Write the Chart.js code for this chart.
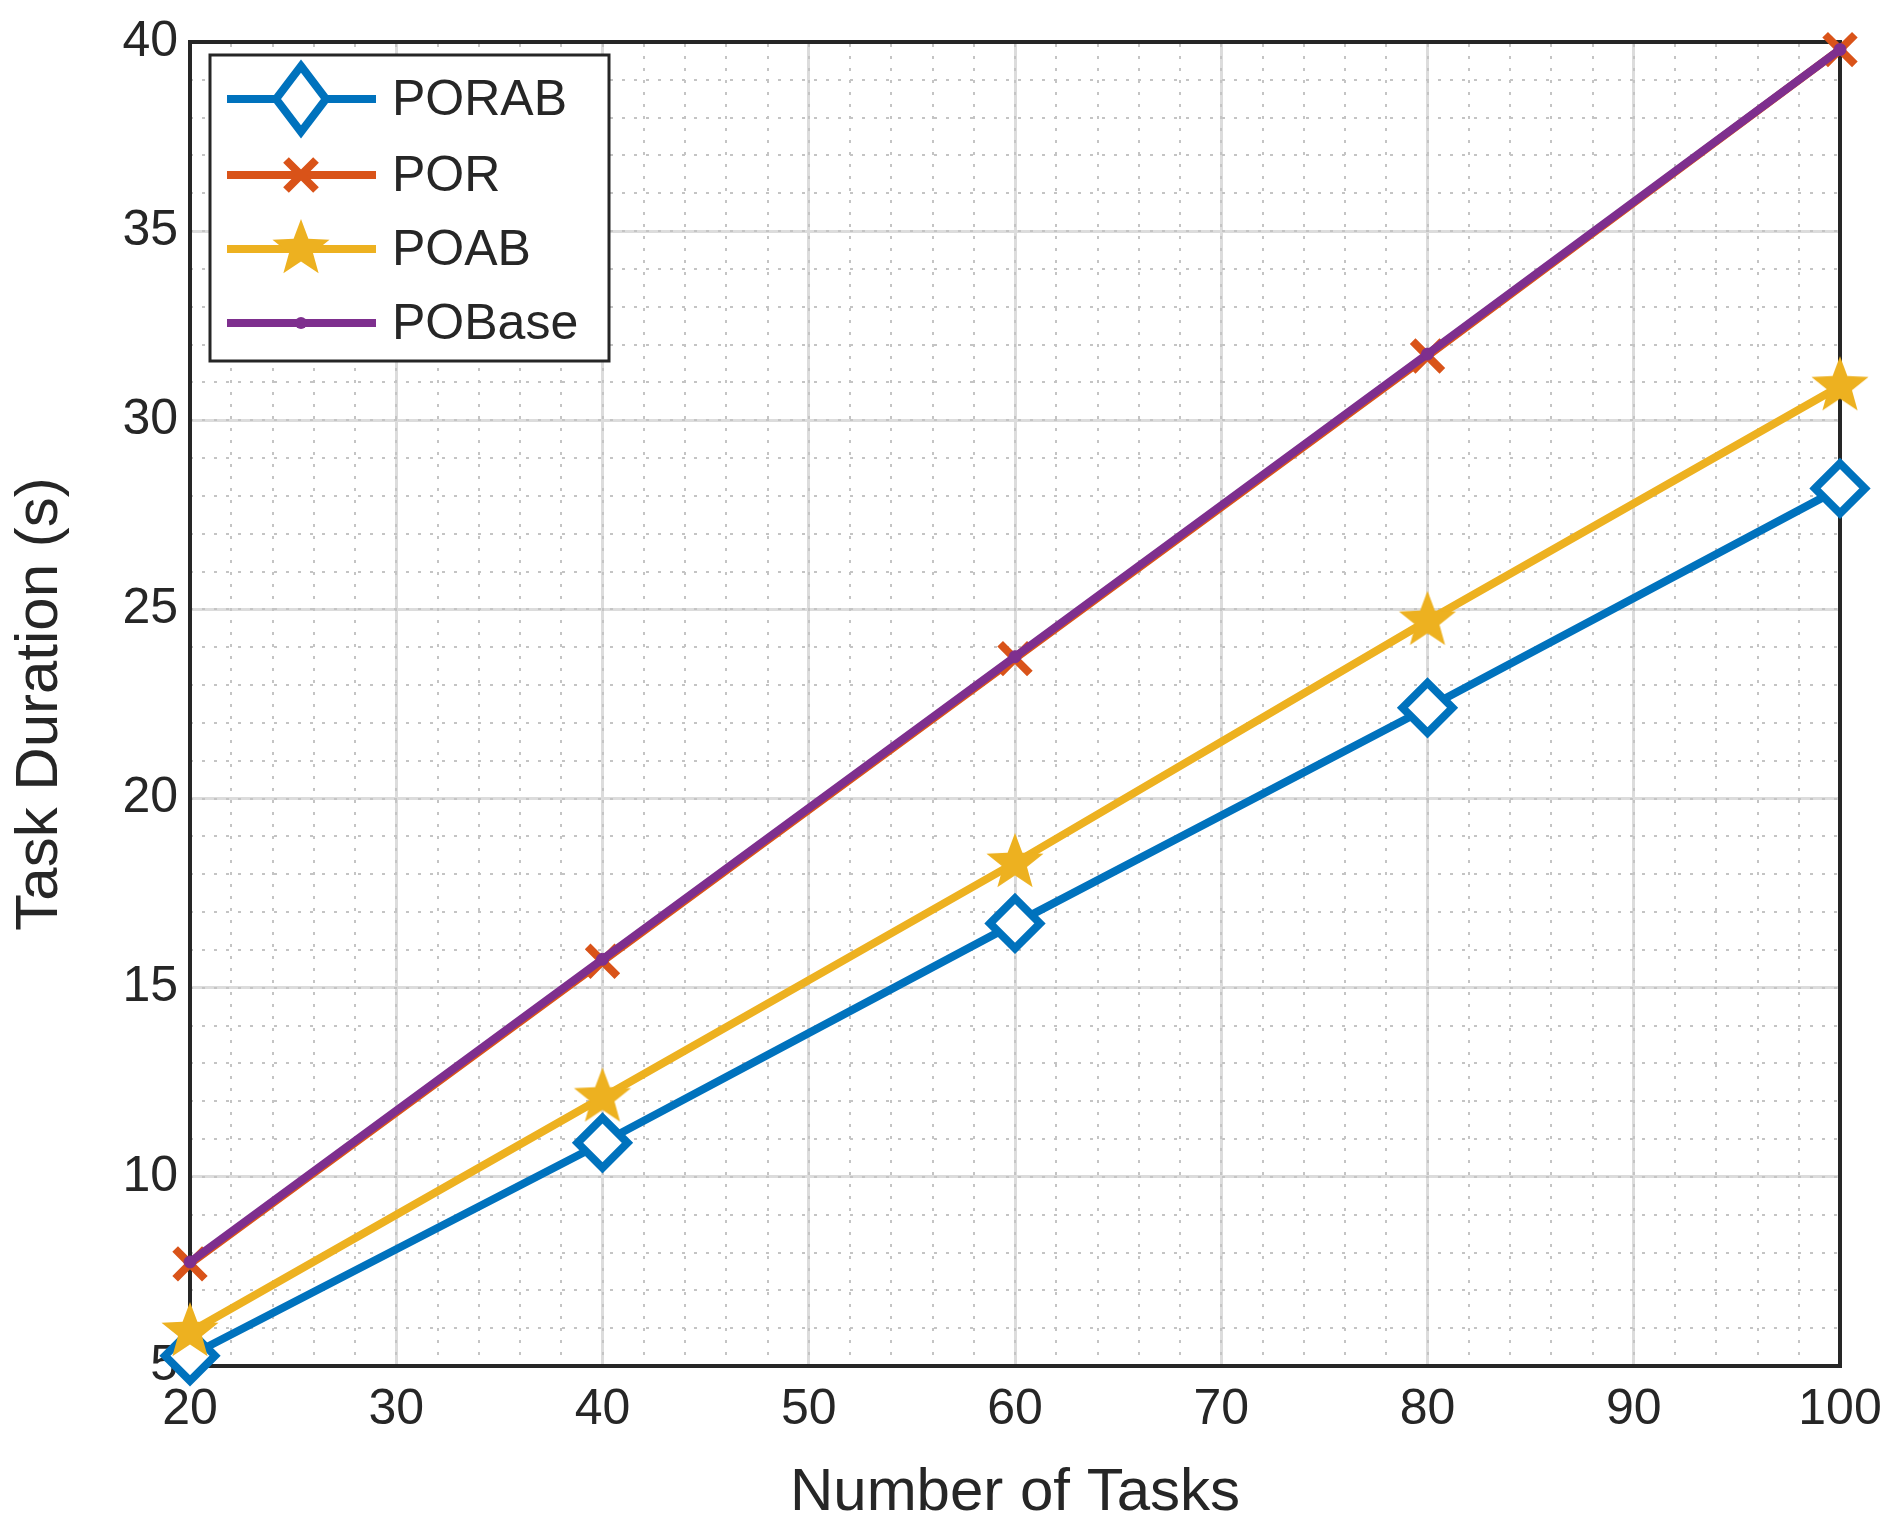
<!DOCTYPE html>
<html>
<head>
<meta charset="utf-8">
<script src="https://cdn.jsdelivr.net/npm/chart.js@4.4.1/dist/chart.umd.min.js"></script>
<style>
  html, body { margin: 0; padding: 0; background: #fff; }
  #wrap { width: 1901px; height: 1533px; }
</style>
</head>
<body>
<div id="wrap"><canvas id="c" width="1901" height="1533"></canvas></div>
<script>
const tasks = [20, 40, 60, 80, 100];
const porab = [5.27, 10.9, 16.7, 22.4, 28.2];
const por = [7.7, 15.7, 23.7, 31.7, 39.8];
const poab = [5.9, 12.1, 18.3, 24.7, 30.9];
const pobase = [7.75, 15.75, 23.75, 31.75, 39.8];
const seriesNames = ["PORAB", "POR", "POAB", "POBase"];

const cBlue = "#0072BD";
const cRed = "#D95319";
const cYellow = "#EDB120";
const cPurple = "#7E2F8E";
const axisColor = "#262626";
const font = "'Liberation Sans', Arial, sans-serif";

// filled star marker
function makeStar(r, color) {
  const cv = document.createElement("canvas");
  cv.width = cv.height = r * 2 + 4;
  const g = cv.getContext("2d");
  g.translate(r + 2, r + 2);
  g.beginPath();
  for (let k = 0; k < 10; k++) {
    const rad = k % 2 === 0 ? r : r * 0.42;
    const a = -Math.PI / 2 + (k * Math.PI) / 5;
    g.lineTo(rad * Math.cos(a), rad * Math.sin(a));
  }
  g.closePath();
  g.fillStyle = color;
  g.fill();
  return cv;
}
const starImg = makeStar(30, cYellow);

const pts = (arr) => arr.map((v, i) => ({ x: tasks[i], y: v }));

const datasets = [
  { label: "PORAB", data: pts(porab), borderColor: cBlue, backgroundColor: "#fff", order: 3,
    pointStyle: "rectRot", pointRadius: 25, pointBorderWidth: 8, pointBorderColor: cBlue },
  { label: "POR", data: pts(por), borderColor: cRed, backgroundColor: cRed, order: 2,
    pointStyle: "crossRot", pointRadius: 21, pointBorderWidth: 8, pointBorderColor: cRed },
  { label: "POAB", data: pts(poab), borderColor: cYellow, backgroundColor: cYellow, order: 1,
    pointStyle: starImg },
  { label: "POBase", data: pts(pobase), borderColor: cPurple, backgroundColor: cPurple, order: 0,
    pointStyle: "circle", pointRadius: 6, pointBorderWidth: 1, pointBorderColor: cPurple },
].map((d) => Object.assign({ borderWidth: 8, tension: 0, fill: false, clip: false }, d));

const legendPlugin = {
  id: "boxLegend",
  afterDraw(chart) {
    const ctx = chart.ctx;
    const x0 = 210, y0 = 55, w = 399, h = 306;
    ctx.save();
    ctx.fillStyle = "#fff";
    ctx.fillRect(x0, y0, w, h);
    ctx.strokeStyle = axisColor;
    ctx.lineWidth = 3;
    ctx.strokeRect(x0, y0, w, h);
    const rows = [99, 175, 249, 323];
    datasets.forEach((d, k) => {
      const y = rows[k];
      ctx.strokeStyle = d.borderColor;
      ctx.lineWidth = 8;
      ctx.beginPath();
      ctx.moveTo(227, y);
      ctx.lineTo(376, y);
      ctx.stroke();
      const mx = 301;
      if (k === 0) {
        ctx.beginPath();
        ctx.moveTo(mx, y - 33); ctx.lineTo(mx + 25, y); ctx.lineTo(mx, y + 33); ctx.lineTo(mx - 25, y); ctx.closePath();
        ctx.fillStyle = "#fff"; ctx.fill(); ctx.stroke();
      } else if (k === 1) {
        ctx.beginPath();
        ctx.moveTo(mx - 15, y - 15); ctx.lineTo(mx + 15, y + 15);
        ctx.moveTo(mx + 15, y - 15); ctx.lineTo(mx - 15, y + 15);
        ctx.stroke();
      } else if (k === 2) {
        ctx.drawImage(starImg, mx - starImg.width / 2, y - starImg.height / 2);
      } else {
        ctx.beginPath(); ctx.arc(mx, y, 6, 0, Math.PI * 2); ctx.fillStyle = cPurple; ctx.fill();
      }
      ctx.fillStyle = axisColor;
      ctx.font = "50px " + font;
      ctx.textBaseline = "middle";
      ctx.fillText(seriesNames[k], 392, y + 2);
    });
    ctx.restore();
  },
};

new Chart(document.getElementById("c"), {
  type: "line",
  data: { datasets },
  plugins: [legendPlugin],
  options: {
    responsive: false,
    animation: false,
    layout: { padding: { left: 0, top: 42, right: 61, bottom: 0 } },
    plugins: { legend: { display: false }, tooltip: { enabled: false } },
    scales: {
      x: {
        type: "linear", min: 20, max: 100,
        ticks: { stepSize: 10, color: axisColor, font: { family: font, size: 50 }, padding: 14 },
        grid: { color: "#dcdcdc", lineWidth: 3, drawTicks: false },
        border: { color: axisColor, width: 4 },
        title: { display: true, text: "Number of Tasks", color: axisColor, font: { family: font, size: 60 }, padding: { top: 0 } },
        afterFit: (s) => { s.height = 1533 - 1326 - 40; },
      },
      y: {
        type: "linear", min: 5, max: 40,
        ticks: { stepSize: 5, color: axisColor, font: { family: font, size: 50 }, padding: 12 },
        grid: { color: "#dcdcdc", lineWidth: 3, drawTicks: false },
        border: { color: axisColor, width: 4 },
        title: { display: true, text: "Task Duration (s)", color: axisColor, font: { family: font, size: 60 }, padding: { bottom: 6 } },
        afterFit: (s) => { s.width = 190; },
      },
      x2: {
        type: "linear", position: "top", min: 20, max: 100,
        ticks: { display: false, stepSize: 2 },
        grid: { color: "#c4c4c4", lineWidth: 2, drawTicks: false },
        border: { color: axisColor, width: 4, dash: [3, 9] },
        afterFit: (s) => { s.height = 0; },
      },
      y2: {
        type: "linear", position: "right", min: 5, max: 40,
        ticks: { display: false, stepSize: 1 },
        grid: { color: "#c4c4c4", lineWidth: 2, drawTicks: false },
        border: { color: axisColor, width: 4, dash: [3, 9] },
        afterFit: (s) => { s.width = 0; },
      },
    },
  },
});
</script>
</body>
</html>
